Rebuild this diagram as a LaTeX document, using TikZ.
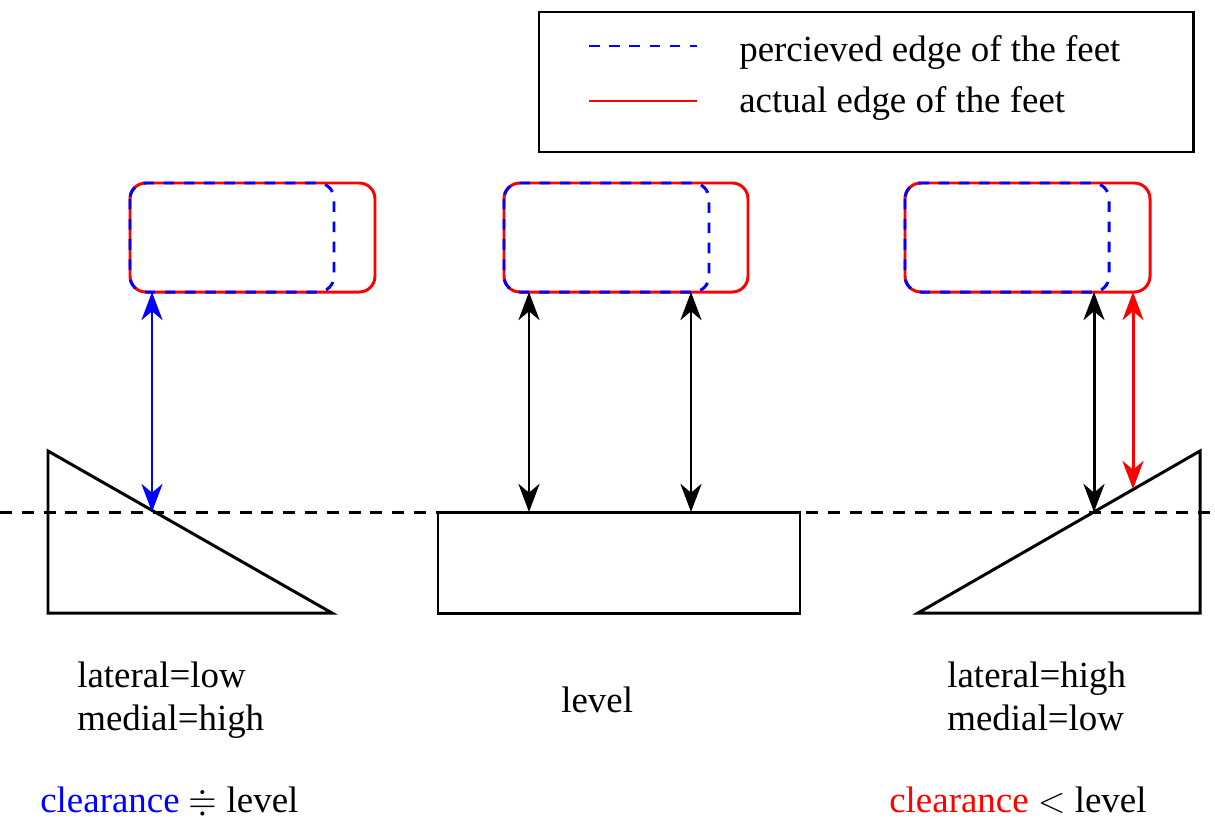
\documentclass[tikz,border=0pt]{standalone}
\usepackage{amssymb}
\usepackage{fontspec}
\setmainfont{Liberation Serif}
\usetikzlibrary{arrows.meta}

\tikzset{
  tip/.tip={Stealth[length=16pt,width=12pt,inset=5pt]},
}

\begin{document}
\begin{tikzpicture}[
  x=0.02cm, y=-0.02cm,
  font=\fontsize{21}{24.4}\selectfont,
  actual/.style={draw=red, line width=1.7pt, rounded corners=9pt},
  percv/.style={draw=blue, line width=1.7pt, dash pattern=on 6pt off 5.5pt,
    rounded corners=9pt},
  ground/.style={draw=black, line width=1.7pt},
  levelline/.style={draw=black, line width=1.7pt, dash pattern=on 6.8pt off 5.6pt},
  gap/.style={tip-tip, line width=1.7pt},
  txt/.style={anchor=base west, inner sep=0pt},
]
\useasboundingbox (0,0) rectangle (1215,819);

% === LEGEND ===
\draw[ground] (539,12) rectangle (1193,152);
\draw[percv] (589,46) -- (697,46);
\draw[actual] (589,101) -- (697,101);
\node[txt] (leg_perc) at (739,61)  {percieved edge of the feet};
\node[txt] (leg_act)  at (739,112) {actual edge of the feet};

% === LEVEL LINE ===
\draw[levelline] (0,512) -- (1215,512);

% === FEET (actual + percieved) ===
\draw[actual] (130,183) rectangle (375,292);
\draw[percv]  (130,183) rectangle (334,292);
\draw[actual] (504,183) rectangle (748,292);
\draw[percv]  (504,183) rectangle (709,292);
\draw[actual] (905,183) rectangle (1150,292);
\draw[percv]  (905,183) rectangle (1109,292);

% === GROUND ===
\draw[ground] (48,451) -- (48,613) -- (332,613) -- cycle;
\draw[ground] (438,512) rectangle (800,613);
\draw[ground] (918,613) -- (1200,613) -- (1200,451) -- cycle;

% --- contact points ---
\coordinate (lf_b)  at (152,292);
\coordinate (lg_t)  at (152,512);
\coordinate (mf_b1) at (529,292);
\coordinate (mg_t1) at (529,512);
\coordinate (mf_b2) at (691,292);
\coordinate (mg_t2) at (691,512);
\coordinate (rf_b1) at (1094,292);
\coordinate (rg_t1) at (1094,512);
\coordinate (rf_b2) at (1133,292);
\coordinate (rg_t2) at (1133,489);

% --- CLEARANCE ARROWS ---
\draw[gap, blue] (lf_b) -- (lg_t);
\draw[gap] (mf_b1) -- (mg_t1);
\draw[gap] (mf_b2) -- (mg_t2);
\draw[gap] (rf_b1) -- (rg_t1);
\draw[gap, red] (rf_b2) -- (rg_t2);

% === LABELS ===
\node[txt] (lat_l) at (77,687)  {lateral=low};
\node[txt] (med_l) at (77,730)  {medial=high};
\node[txt] (lvl_m) at (561,712) {level};
\node[txt] (lat_r) at (947,687) {lateral=high};
\node[txt] (med_r) at (947,730) {medial=low};

\node[txt] (res_l) at (40,812)
  {\textcolor{blue}{clearance} $\doteqdot$ level};
\node[txt] (res_r) at (889,812)
  {\textcolor{red}{clearance} $<$ level};

\end{tikzpicture}
\end{document}
